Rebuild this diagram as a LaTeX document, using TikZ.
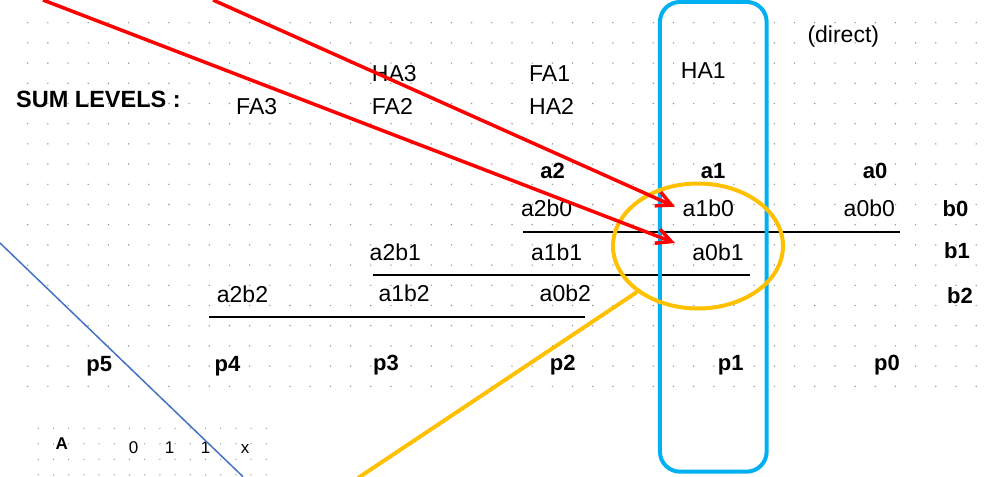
\documentclass[tikz,border=0pt]{standalone}
\usepackage{fontspec}
\setmainfont{Liberation Sans}
\usetikzlibrary{arrows.meta}
\definecolor{dotgray}{RGB}{150,150,150}
\definecolor{boxblue}{RGB}{0,176,240}
\definecolor{ringorange}{RGB}{255,192,0}
\definecolor{thinblue}{RGB}{68,114,196}
\tikzset{
  lbl/.style={inner sep=0pt, font=\fontsize{23}{27}\selectfont},
  blbl/.style={inner sep=0pt, font=\fontsize{22}{26}\selectfont\bfseries},
  slbl/.style={inner sep=0pt, font=\fontsize{17}{20}\selectfont},
  sblbl/.style={inner sep=0pt, font=\fontsize{17}{20}\selectfont\bfseries},
  redarrow/.style={draw=red, line width=3.5pt, -{Straight Barb[length=15pt,width=15pt]}},
  rowline/.style={draw=black, line width=2pt},
  griddot/.style={fill=dotgray},
}
\begin{document}
\begin{tikzpicture}[x=1pt,y=-1pt]
\useasboundingbox (0,0) rectangle (984,476);
\begin{scope}
\clip (0,0) rectangle (984,476);
% main dot grid
\foreach \i in {0,...,47}{
  \foreach \j in {0,...,18}{
    \fill[griddot] ({27.7+20.18*\i},{22.7+20.2*\j}) circle (0.8);
  }
}
% small dot grid bottom-left
\foreach \i in {0,...,15}{
  \foreach \j in {0,...,3}{
    \fill[griddot] ({38.3+15.2*\i},{428.3+15.5*\j}) circle (0.7);
  }
}

% texts
\node[blbl, anchor=west, font=\fontsize{23.5}{27}\selectfont\bfseries] (sum) at (16,99) {SUM LEVELS :};
\node[lbl] (fa3) at (256.7,106.7) {FA3};
\node[lbl, anchor=west] (ha3) at (371.7,73.3) {HA3};
\node[lbl, anchor=west] (fa2) at (371.7,106.5) {FA2};
\node[lbl, anchor=west] (fa1) at (529,73.5) {FA1};
\node[lbl, anchor=west] (ha2) at (529,106.5) {HA2};
\node[lbl] (ha1) at (703.3,70.5) {HA1};
\node[lbl] (direct) at (843.3,36.3) {(direct)};

\node[blbl] (a2) at (552.5,170.5) {a2};
\node[blbl] (a1) at (713,171) {a1};
\node[blbl] (a0) at (875,171) {a0};

\node[lbl] (a2b0) at (546.7,208.3) {a2b0};
\node[lbl] (a1b0) at (708.3,208.3) {a1b0};
\node[lbl] (a0b0) at (869.3,208.3) {a0b0};
\node[blbl] (b0) at (955.5,208.3) {b0};

\node[lbl] (a2b1) at (395.3,252.3) {a2b1};
\node[lbl] (a1b1) at (556.7,252.3) {a1b1};
\node[lbl] (a0b1) at (718,252.3) {a0b1};
\node[blbl] (b1) at (957,250.5) {b1};

\node[lbl] (a2b2) at (242.5,293.8) {a2b2};
\node[lbl] (a1b2) at (404.2,293.3) {a1b2};
\node[lbl] (a0b2) at (565.3,293.3) {a0b2};
\node[blbl] (b2) at (960,295.5) {b2};

\node[blbl] (p5) at (99.2,366) {p5};
\node[blbl] (p4) at (227.5,366) {p4};
\node[blbl] (p3) at (386,365.5) {p3};
\node[blbl] (p2) at (562.7,365.5) {p2};
\node[blbl] (p1) at (730.8,365.5) {p1};
\node[blbl] (p0) at (887,365) {p0};

\node[sblbl] (bA) at (61.7,443.5) {A};
\node[slbl] (d0) at (133.7,448) {0};
\node[slbl] (d1) at (169.7,448) {1};
\node[slbl] (d2) at (205.5,448) {1};
\node[slbl] (dx) at (245,449.5) {x};

% horizontal rule lines
\coordinate (r0a) at (523,231.7);
\coordinate (r0b) at (900,231.7);
\coordinate (r1a) at (373,275);
\coordinate (r1b) at (750,275);
\coordinate (r2a) at (209,316.7);
\coordinate (r2b) at (585,316.7);
\draw[rowline] (r0a) -- (r0b);
\draw[rowline] (r1a) -- (r1b);
\draw[rowline] (r2a) -- (r2b);

% thin blue diagonal
\coordinate (tb1) at (0,243);
\coordinate (tb2) at (243,476.7);
\draw[thinblue, line width=1.5pt] (tb1) -- (tb2);

% blue rounded box
\node[draw=boxblue, line width=4pt, rounded corners=20pt, minimum width=106.7pt, minimum height=469.7pt, inner sep=0pt] (colbox) at (713.3,236.8) {};

% orange ellipse and line
\draw[ringorange, line width=4pt] (698,246) ellipse [x radius=85, y radius=62.5];
\coordinate (ringpt) at (637,292);
\coordinate (ringend) at (358,478);
\draw[ringorange, line width=4pt] (ringpt) -- (ringend);

% red arrows
\coordinate (rs1) at (43,0);
\coordinate (rt1) at (675,243);
\coordinate (rs2) at (213,0);
\coordinate (rt2) at (675,206.7);
\draw[redarrow] (rs1) -- (rt1);
\draw[redarrow] (rs2) -- (rt2);
\end{scope}
\end{tikzpicture}
\end{document}
